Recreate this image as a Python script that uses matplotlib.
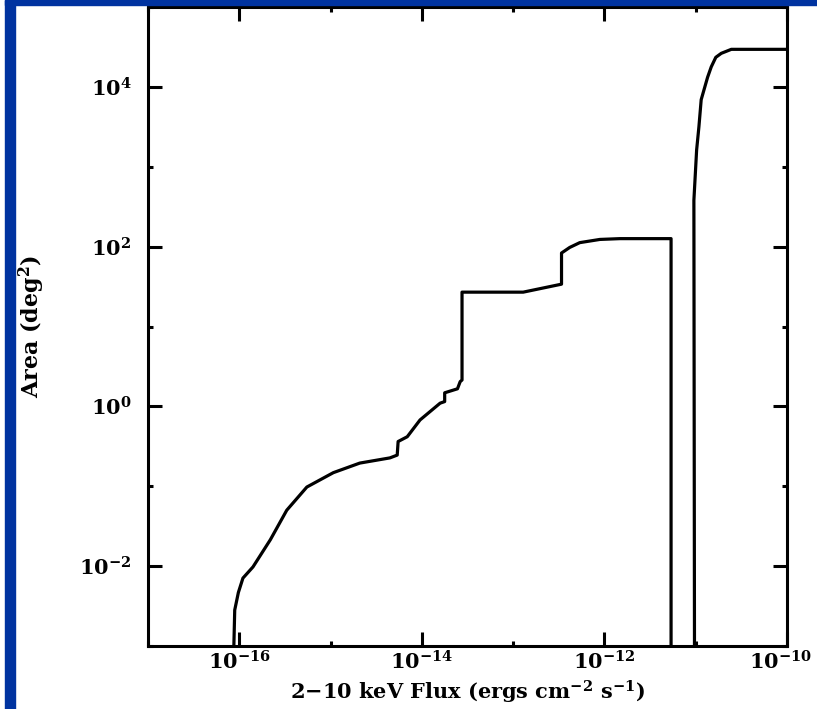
import numpy as np
import matplotlib.pyplot as plt
from matplotlib.patches import Rectangle
from matplotlib.ticker import FixedLocator, FixedFormatter, NullFormatter
from matplotlib.transforms import ScaledTranslation

plt.rcParams['font.family'] = ['DejaVu Serif']
plt.rcParams['font.weight'] = 'bold'
plt.rcParams['mathtext.fontset'] = 'custom'
plt.rcParams['mathtext.rm'] = 'DejaVu Serif:bold'
plt.rcParams['mathtext.it'] = 'DejaVu Serif:bold'
plt.rcParams['mathtext.bf'] = 'DejaVu Serif:bold'

# sky coverage curve (log10 flux, log10 area)
log_flux = [-16.07, -16.05, -16.01, -15.96, -15.85, -15.66, -15.48, -15.26,
            -14.97, -14.68, -14.35, -14.27, -14.26, -14.16, -14.02, -13.80,
            -13.75, -13.75, -13.61, -13.58, -13.56, -13.56, -12.89, -12.47,
            -12.47, -12.38, -12.27, -12.05, -11.83, -11.27, -11.27, -11.01,
            -11.02, -10.99, -10.965, -10.94, -10.90, -10.87, -10.83, -10.78,
            -10.72, -10.61, -10.0]
log_area = [-3.5, -2.55, -2.33, -2.15, -2.01, -1.67, -1.30, -1.01,
            -0.83, -0.71, -0.645, -0.61, -0.44, -0.38, -0.17, 0.04,
            0.06, 0.17, 0.22, 0.31, 0.33, 1.43, 1.43, 1.53,
            1.92, 1.99, 2.05, 2.09, 2.10, 2.10, -6.0, -6.0,
            2.58, 3.21, 3.50, 3.84, 4.00, 4.12, 4.25, 4.37,
            4.42, 4.47, 4.47]

x_major = [1e-16, 1e-14, 1e-12, 1e-10]
x_labels = [r'$10^{-16}$', r'$10^{-14}$', r'$10^{-12}$', r'$10^{-10}$']
x_minor = [1e-17, 1e-15, 1e-13, 1e-11]
y_major = [1e-2, 1e0, 1e2, 1e4]
y_labels = [r'$10^{-2}$', r'$10^{0}$', r'$10^{2}$', r'$10^{4}$']
y_minor = [1e-3, 1e-1, 1e1, 1e3, 1e5]

fig = plt.figure(figsize=(8.17, 7.09), dpi=100)
# blue frame strips
fig.patches.append(Rectangle((5/817, 0), 10/817, 1, transform=fig.transFigure,
                             color='#0033a0', zorder=0))
fig.patches.append(Rectangle((5/817, 1 - 5/709), 1, 5/709, transform=fig.transFigure,
                             color='#0033a0', zorder=0))

ax = fig.add_axes([148/817, 1 - 646/709, 639/817, 639/709])
ax.plot(10**np.array(log_flux), 10**np.array(log_area), color='black', lw=2.3,
        solid_joinstyle='round')
ax.set_xscale('log')
ax.set_yscale('log')
ax.set_xlim(1e-17, 1e-10)
ax.set_ylim(1e-3, 1e5)

ax.xaxis.set_major_locator(FixedLocator(x_major))
ax.xaxis.set_major_formatter(FixedFormatter(x_labels))
ax.xaxis.set_minor_locator(FixedLocator(x_minor))
ax.xaxis.set_minor_formatter(NullFormatter())
ax.yaxis.set_major_locator(FixedLocator(y_major))
ax.yaxis.set_major_formatter(FixedFormatter(y_labels))
ax.yaxis.set_minor_locator(FixedLocator(y_minor))
ax.yaxis.set_minor_formatter(NullFormatter())

ax.tick_params(which='both', direction='in', top=True, right=True, width=2.2,
               labelsize=15)
ax.tick_params(which='major', length=10)
ax.tick_params(which='minor', length=3.5)
ax.tick_params(axis='x', which='major', pad=3)
ax.tick_params(axis='y', which='major', pad=12)
for s in ax.spines.values():
    s.set_linewidth(2.2)

# keep the last flux label inside the picture
fig.canvas.draw()
last = ax.get_xticklabels()[-1]
last.set_transform(last.get_transform() + ScaledTranslation(-6/100, 0, fig.dpi_scale_trans))

ax.set_xlabel(r'2$-$10 keV Flux (ergs cm$^{-2}$ s$^{-1}$)', fontsize=15,
              fontweight='bold')
ax.xaxis.set_label_coords(0.5, -(692 - 646) / 639, transform=ax.transAxes)
ax.xaxis.label.set_va('center')
ax.set_ylabel(r'Area (deg$^{2}$)', fontsize=16, fontweight='bold')
ax.yaxis.set_label_coords((32 - 148) / 639, 0.5, transform=ax.transAxes)
ax.yaxis.label.set_va('center')

fig.savefig('out.png', dpi=100)
